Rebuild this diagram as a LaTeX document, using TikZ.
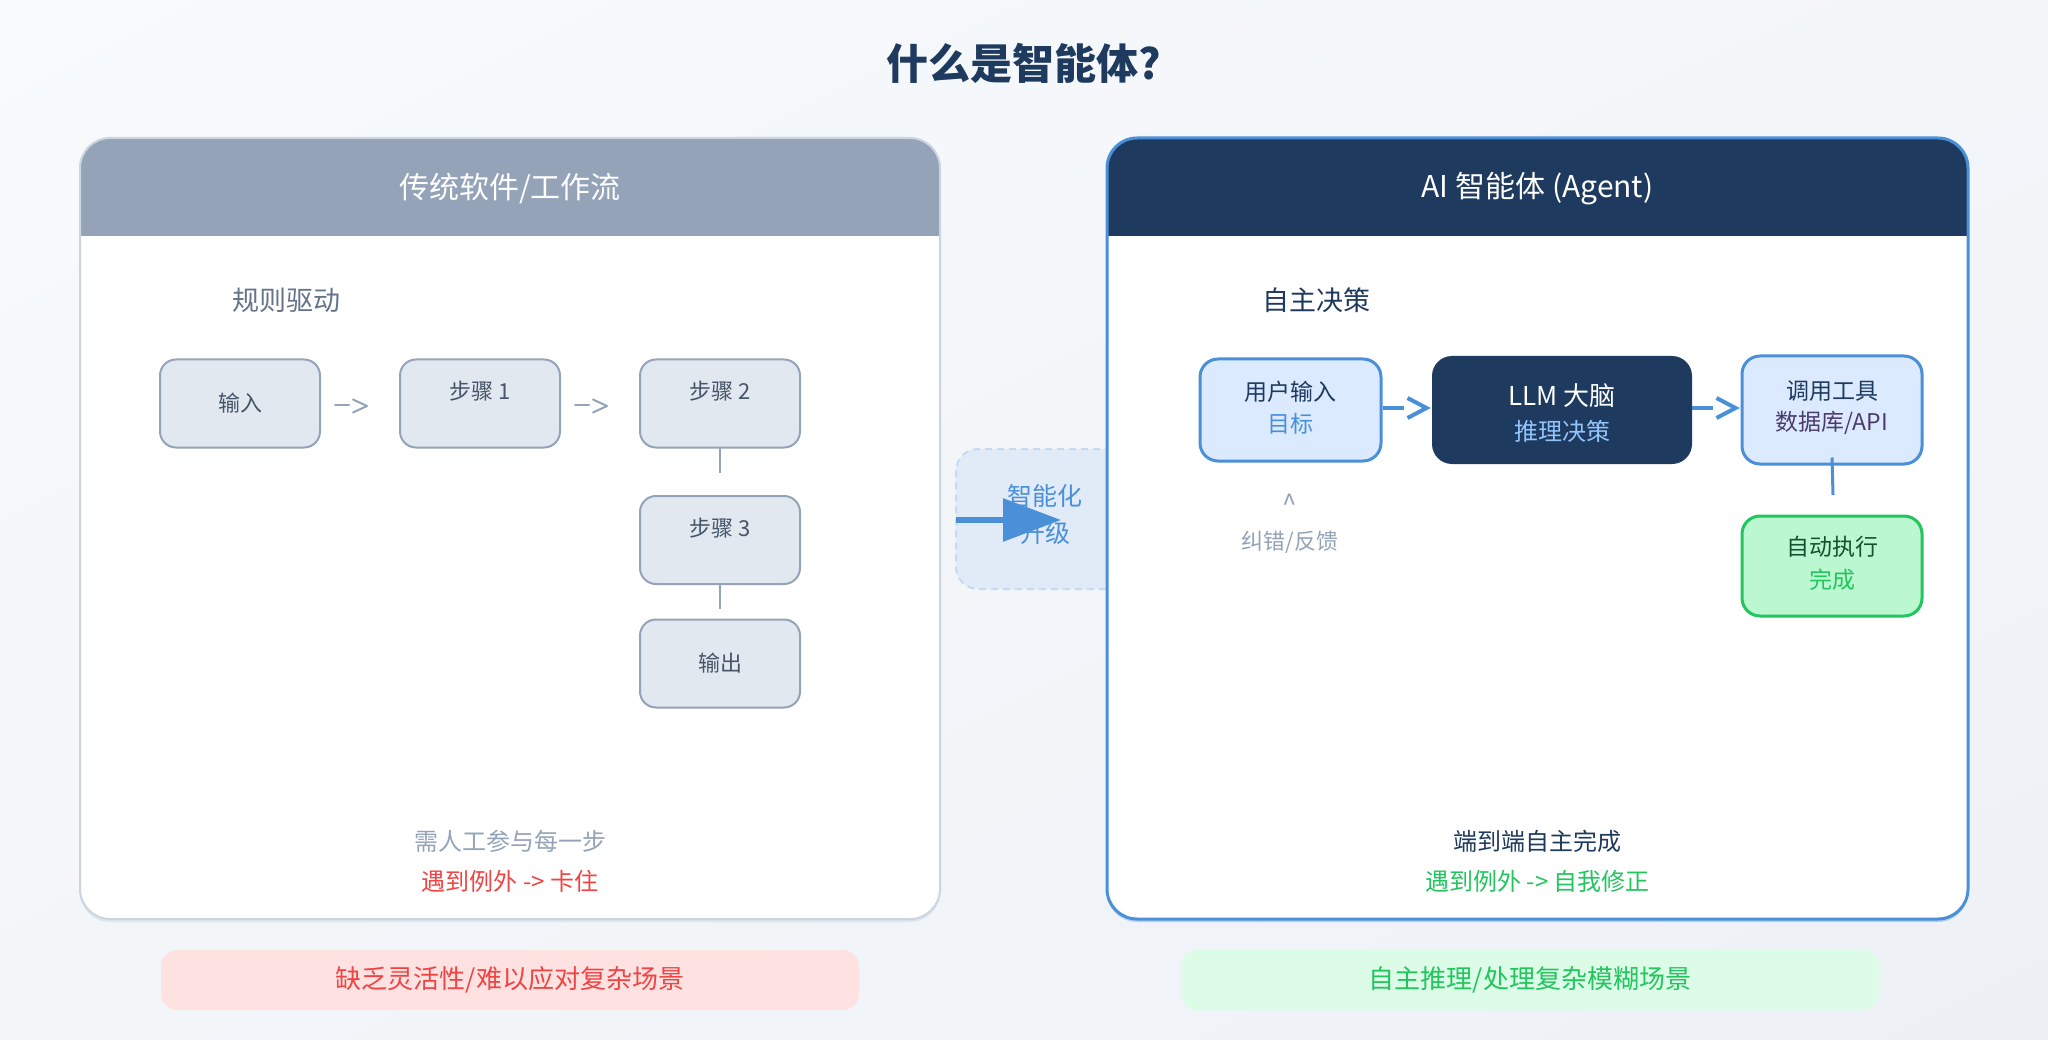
\documentclass[tikz,border=0pt]{standalone}
\usepackage{fontspec}
\setmainfont{Noto Sans CJK SC}
\usetikzlibrary{arrows.meta,calc,shadings}
\definecolor{bgA}{HTML}{F8FAFC}
\definecolor{bgB}{HTML}{EDF1F6}
\definecolor{bgM}{HTML}{F3F6F9}
\definecolor{navy}{HTML}{1E3A5F}
\definecolor{blu}{HTML}{4A90D9}
\definecolor{lblue}{HTML}{DBEAFE}
\definecolor{gry}{HTML}{94A3B8}
\definecolor{gline}{HTML}{CBD5E1}
\definecolor{gfill}{HTML}{E2E8F0}
\definecolor{slate}{HTML}{475569}
\definecolor{slatel}{HTML}{64748B}
\definecolor{grn}{HTML}{22C55E}
\definecolor{grnfill}{HTML}{BBF7D0}
\definecolor{grndark}{HTML}{14532D}
\definecolor{purp}{HTML}{4C3B6E}
\definecolor{skyb}{HTML}{93C5FD}
\definecolor{red}{HTML}{EF4444}
\definecolor{redfill}{HTML}{FEE2E2}
\definecolor{grnbar}{HTML}{DCFCE7}
\definecolor{midfill}{HTML}{E0EBF7}
\definecolor{midline}{HTML}{C6DBF0}
\newcommand{\fs}[1]{\fontsize{#1}{#1}\selectfont}
\tikzset{
  gbox/.style={draw=gry, line width=2pt, fill=gfill, rounded corners=16pt,
    minimum width=160pt, minimum height=88pt, inner sep=0pt, text=slate, font=\fs{22}},
  bbox/.style={draw=blu, line width=3pt, fill=lblue, rounded corners=18pt,
    inner sep=0pt, align=center},
  garrow/.style={draw=gry, line width=2pt, line cap=round, line join=round},
  barrow/.style={draw=blu, line width=4pt, line join=miter},
  bar/.style={rounded corners=16pt, minimum width=698pt, minimum height=60pt, inner sep=0pt, font=\fs{26}},
}
\begin{document}
\begin{tikzpicture}[x=1pt,y=-1pt]
\useasboundingbox (0,0) rectangle (2048,1040);
\shade[upper left=bgA, upper right=bgM, lower left=bgM, lower right=bgB] (0,0) rectangle (2048,1040);

% title
\node[font=\fs{42}\bfseries, text=navy] (title) at (1024,63) {什么是智能体?};

% middle upgrade element
\node[draw=midline, dashed, dash pattern=on 7pt off 5pt, line width=2pt, fill=midfill,
  rounded corners=22pt, minimum width=178pt, minimum height=140pt, inner sep=0pt] (mid) at (1045,519) {};

% shadows
\fill[gline, opacity=0.5, rounded corners=30pt] (80,141) rectangle (940,922);
\fill[blu, opacity=0.35, rounded corners=30pt] (1107,141) rectangle (1968,922);

% left panel
\node[fill=white, rounded corners=30pt, minimum width=860pt, minimum height=781pt, inner sep=0pt] (lp) at (510,528.5) {};
\begin{scope}
\clip[rounded corners=30pt] (80,138) rectangle (940,919);
\fill[gry] (80,138) rectangle (940,236);
\end{scope}
\draw[gline, line width=2pt, rounded corners=30pt] (80,138) rectangle (940,919);
\node[text=white, font=\fs{30}] (lh) at (510,189) {传统软件/工作流};

% right panel
\node[fill=white, rounded corners=30pt, minimum width=861pt, minimum height=781pt, inner sep=0pt] (rp) at (1537.5,528.5) {};
\begin{scope}
\clip[rounded corners=30pt] (1107,138) rectangle (1968,919);
\fill[navy] (1107,138) rectangle (1968,236);
\end{scope}
\draw[blu, line width=3pt, rounded corners=30pt] (1107,138) rectangle (1968,919);
\node[text=white, font=\fs{30}] (rh) at (1537.5,189) {AI 智能体 (Agent)};

% middle text and arrow
\node[text=blu, font=\fs{25}, align=center, inner sep=0pt] (midt) at (1045,514) {智能化\\[12pt]升级};
\coordinate (ma) at (956,520);
\coordinate (mb) at (1061,520);
\draw[blu, line width=6pt, -{Triangle[length=58pt,width=42pt]}] (ma) -- (mb);

% ---------- left content ----------
\node[anchor=west, text=slatel, font=\fs{27}] (rule) at (229,300) {规则驱动};
\node[gbox] (in) at (240,403.5) {输入};
\node[gbox] (s1) at (480,403.5) {};
\node[text=slate, font=\fs{22}] at ([yshift=-33pt]s1.north) {步骤 1};
\node[gbox] (s2) at (720,403.5) {};
\node[text=slate, font=\fs{22}] at ([yshift=-33pt]s2.north) {步骤 2};
\node[gbox] (s3) at (720,540) {};
\node[text=slate, font=\fs{22}] at ([yshift=-33pt]s3.north) {步骤 3};
\node[gbox] (out) at (720,663.5) {输出};

% gray arrows ->
\draw[garrow] ([xshift=14pt,yshift=-2pt]in.east) -- ++(14,0);
\draw[garrow] ([xshift=32pt,yshift=4pt]in.east) -- ++(14,6.5) -- ++(-14,6.5);
\draw[garrow] ([xshift=14pt,yshift=-2pt]s1.east) -- ++(14,0);
\draw[garrow] ([xshift=32pt,yshift=4pt]s1.east) -- ++(14,6.5) -- ++(-14,6.5);
\coordinate (s2e) at (720,473);
\coordinate (s3e) at (720,609);
\draw[gry, line width=2pt] ([yshift=2pt]s2.south) -- (s2e);
\draw[gry, line width=2pt] ([yshift=2pt]s3.south) -- (s3e);

\node[text=gry, font=\fs{24}] (lb1) at (510,841) {需人工参与每一步};
\node[text=red, font=\fs{24}] (lb2) at (510,881) {遇到例外 -> 卡住};

% ---------- right content ----------
\node[anchor=west, text=navy, font=\fs{27}] (auto) at (1259,300) {自主决策};
\node[bbox, minimum width=181pt, minimum height=102pt] (u) at (1290.5,410) {};
\node[text=navy, font=\fs{23}] at (1290.5,392) {用户输入};
\node[text=blu, font=\fs{23}] at (1290.5,424) {目标};

\node[fill=navy, rounded corners=20pt, minimum width=260pt, minimum height=108pt, inner sep=0pt] (llm) at (1562,410) {};
\node[text=white, font=\fs{26}] at (1562,396) {LLM 大脑};
\node[text=skyb, font=\fs{24}] at (1562,431) {推理决策};

\node[bbox, minimum width=180pt, minimum height=108pt] (tool) at (1832,410) {};
\node[text=navy, font=\fs{23}] at (1832,391) {调用工具};
\node[text=purp, font=\fs{23}] at (1832,423) {数据库/API};

\node[draw=grn, line width=3pt, fill=grnfill, rounded corners=18pt, minimum width=180pt, minimum height=100pt, inner sep=0pt] (exe) at (1832,566) {};
\node[text=grndark, font=\fs{23}] at (1832,547) {自动执行};
\node[text=grn, font=\fs{23}] at (1832,580) {完成};

% blue arrows ->
\draw[barrow] ([yshift=2pt]u.east) -- ++(21,0);
\draw[barrow] ([xshift=25pt,yshift=12pt]u.east) -- ++(19,10) -- ++(-19,10);
\draw[barrow] ([yshift=2pt]llm.east) -- ++(21,0);
\draw[barrow] ([xshift=-24pt,yshift=12pt]tool.west) -- ++(19,10) -- ++(-19,10);
\coordinate (te) at (1833,495);
\draw[blu, line width=3pt] ([yshift=8pt]tool.south) -- (te);

\node[text=gry, font=\fs{26}] (caret) at (1290,504) {\^{}};
\node[text=gry, font=\fs{22}] (fb) at (1290,542) {纠错/反馈};

\node[text=navy, font=\fs{24}] (rb1) at (1537.5,841) {端到端自主完成};
\node[text=grn, font=\fs{24}] (rb2) at (1537.5,881) {遇到例外 -> 自我修正};

% bottom bars
\node[bar, fill=redfill, text=red] (barl) at (510,980) {缺乏灵活性/难以应对复杂场景};
\node[bar, fill=grnbar, text=grn] (barr) at (1530,980) {自主推理/处理复杂模糊场景};
\end{tikzpicture}
\end{document}
